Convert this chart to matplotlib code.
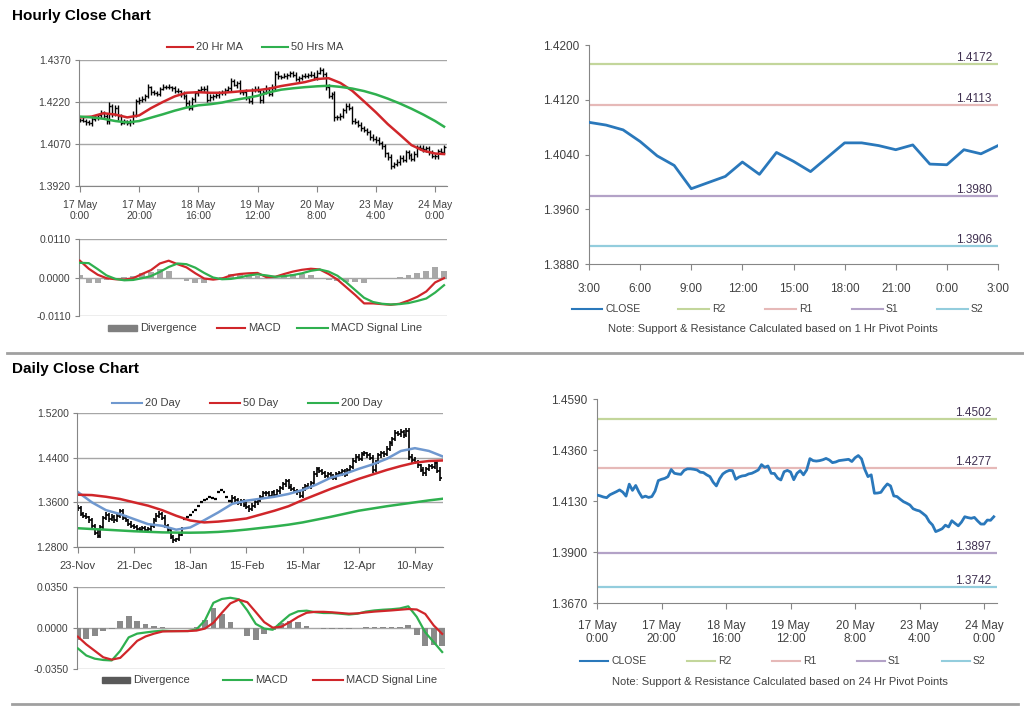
import numpy as np
import matplotlib
matplotlib.use("Agg")
import matplotlib.pyplot as plt
from matplotlib.lines import Line2D
from matplotlib.patches import Rectangle
import matplotlib.transforms as mtransforms

plt.rcParams['font.family'] = ['Liberation Sans', 'DejaVu Sans']

# ---------------- hourly data (17 May 0:00 -> 24 May) ----------------
hourly_close = [
    1.4157, 1.4153, 1.4148, 1.4145, 1.4158, 1.4165, 1.4172, 1.4180, 1.4170, 1.4152,
    1.4206, 1.4178, 1.4200, 1.4170, 1.4146, 1.4152, 1.4146, 1.4150, 1.4175, 1.4222,
    1.4228, 1.4232, 1.4240, 1.4272, 1.4255, 1.4252, 1.4250, 1.4268, 1.4275, 1.4275,
    1.4273, 1.4270, 1.4260, 1.4258, 1.4248, 1.4240, 1.4215, 1.4198, 1.4230, 1.4252,
    1.4262, 1.4268, 1.4267, 1.4228, 1.4238, 1.4243, 1.4245, 1.4252, 1.4255, 1.4262,
    1.4270, 1.4294, 1.4282, 1.4288, 1.4255, 1.4254, 1.4233, 1.4225, 1.4262, 1.4268,
    1.4261, 1.4226, 1.4255, 1.4267, 1.4248, 1.4270, 1.4321, 1.4312, 1.4310, 1.4312,
    1.4316, 1.4322, 1.4315, 1.4303, 1.4306, 1.4312, 1.4314, 1.4316, 1.4318, 1.4308,
    1.4325, 1.4335, 1.4320, 1.4273, 1.4240, 1.4248, 1.4165, 1.4166, 1.4169, 1.4190,
    1.4207, 1.4198, 1.4153, 1.4150, 1.4138, 1.4127, 1.4120, 1.4112, 1.4095, 1.4089,
    1.4085, 1.4074, 1.4062, 1.4037, 1.4022, 1.3992, 1.3998, 1.4005, 1.4021, 1.4013,
    1.4041, 1.4029, 1.4018, 1.4035, 1.4059, 1.4055, 1.4052, 1.4056, 1.4040, 1.4026,
    1.4026, 1.4044, 1.4043, 1.4059]
hourly_up_pips = [
    6, 8, 5, 9, 7, 10, 6, 12, 8, 9, 14, 7, 10, 8, 6, 9, 5, 8, 12, 10,
    9, 11, 7, 13, 6, 8, 9, 7, 10, 6, 8, 5, 7, 9, 6, 10, 8, 12, 9, 7,
    6, 10, 8, 12, 9, 7, 10, 6, 8, 9, 7, 11, 8, 6, 10, 9, 12, 8, 7, 10,
    9, 6, 8, 12, 7, 14, 8, 9, 6, 10, 8, 7, 9, 11, 6, 8, 10, 7, 12, 9,
    8, 11, 7, 6, 12, 9, 10, 8, 13, 7, 9, 8, 6, 10, 7, 9, 8, 6, 7, 9,
    8, 10, 7, 9, 6, 12, 8, 10, 9, 11, 7, 9, 8, 10, 6, 9, 12, 8, 7, 10,
    9, 8, 11, 7]
hourly_dn_pips = [
    8, 6, 10, 7, 9, 6, 11, 8, 7, 12, 9, 10, 7, 13, 8, 6, 9, 12, 8, 7,
    10, 8, 9, 6, 11, 7, 8, 10, 6, 9, 7, 12, 8, 6, 10, 9, 14, 7, 8, 10,
    9, 7, 11, 8, 6, 12, 8, 9, 7, 10, 8, 9, 6, 12, 8, 10, 7, 9, 13, 8,
    7, 10, 9, 6, 8, 7, 9, 11, 8, 6, 10, 8, 7, 9, 12, 8, 6, 10, 7, 9,
    8, 6, 10, 9, 7, 11, 14, 8, 9, 7, 10, 8, 12, 9, 8, 10, 7, 11, 9, 8,
    10, 7, 9, 12, 8, 13, 9, 7, 10, 8, 9, 11, 8, 7, 10, 8, 9, 12, 8, 7,
    9, 10, 8, 7]
hourly_tick_pos = [0, 20, 40, 60, 80, 100, 120]
hourly_tick_labels = ['17 May\n0:00', '17 May\n20:00', '18 May\n16:00', '19 May\n12:00',
                      '20 May\n8:00', '23 May\n4:00', '24 May\n0:00']

ma_hour_x = [0, 4, 8, 12, 16, 20, 24, 28, 32, 36, 40, 44, 48, 52, 56, 60,
             64, 68, 72, 76, 80, 84, 88, 92, 96, 100, 104, 108, 112, 116, 120, 123]
ma20_hour = [1.4165, 1.4168, 1.4180, 1.4175, 1.4165, 1.4172, 1.4198, 1.4220, 1.4240, 1.4253,
             1.4255, 1.4253, 1.4253, 1.4256, 1.4260, 1.4262, 1.4268, 1.4277, 1.4284, 1.4291,
             1.4302, 1.4305, 1.4288, 1.4260, 1.4222, 1.4183, 1.4141, 1.4104, 1.4066, 1.4046,
             1.4036, 1.4034]
ma50_hour = [1.4168, 1.4165, 1.4160, 1.4152, 1.4147, 1.4152, 1.4164, 1.4176, 1.4189, 1.4200,
             1.4208, 1.4212, 1.4218, 1.4227, 1.4234, 1.4242, 1.4255, 1.4264, 1.4269, 1.4273,
             1.4276, 1.4278, 1.4274, 1.4268, 1.4259, 1.4247, 1.4232, 1.4215, 1.4196, 1.4175,
             1.4152, 1.4132]

macd_hour_x = list(range(0, 124, 3))
macd_hour = [0.0048, 0.0025, 0.0008, -0.0002, -0.0005, -0.0006, -0.0002, 0.0010, 0.0021, 0.0040,
             0.0048, 0.0038, 0.0029, 0.0012, -0.0003, -0.0006, -0.0003, 0.0006, 0.0010, 0.0012,
             0.0013, 0.0001, 0.0002, 0.0010, 0.0017, 0.0022, 0.0025, 0.0023, 0.0010, -0.0006,
             -0.0028, -0.0050, -0.0074, -0.0074, -0.0076, -0.0078, -0.0075, -0.0066, -0.0055, -0.0040,
             -0.0014, -0.0002]
signal_hour = [0.0042, 0.0041, 0.0024, 0.0006, -0.0004, -0.0008, -0.0007, -0.0002, 0.0004, 0.0016,
               0.0030, 0.0040, 0.0038, 0.0028, 0.0013, 0.0000, -0.0005, -0.0004, 0.0000, 0.0006,
               0.0009, 0.0006, 0.0002, 0.0004, 0.0007, 0.0012, 0.0019, 0.0023, 0.0017, 0.0005,
               -0.0014, -0.0036, -0.0058, -0.0070, -0.0075, -0.0077, -0.0076, -0.0073, -0.0067, -0.0060,
               -0.0043, -0.0022]

# hourly pivot chart (last 24 hours)
pivot_hour_labels = ['3:00', '6:00', '9:00', '12:00', '15:00', '18:00', '21:00', '0:00', '3:00']
close_1h = [1.4087, 1.4083, 1.4076, 1.4059, 1.4038, 1.4024, 1.3990, 1.3999, 1.4008, 1.4029,
            1.4011, 1.4043, 1.4030, 1.4015, 1.4036, 1.4057, 1.4057, 1.4053, 1.4047, 1.4054,
            1.4026, 1.4025, 1.4047, 1.4041, 1.4053]
level_names = ['R2', 'R1', 'S1', 'S2']
levels_1h = [1.4172, 1.4113, 1.3980, 1.3906]
levels_24h = [1.4502, 1.4277, 1.3897, 1.3742]

# ---------------- daily data (23-Nov -> 23-May) ----------------
daily_close = [
    1.350, 1.340, 1.336, 1.333, 1.328, 1.318, 1.305, 1.300, 1.315, 1.332,
    1.338, 1.330, 1.334, 1.328, 1.336, 1.344, 1.332, 1.328, 1.322, 1.318,
    1.316, 1.312, 1.310, 1.314, 1.310, 1.312, 1.318, 1.328, 1.336, 1.340,
    1.332, 1.318, 1.310, 1.298, 1.292, 1.294, 1.302, 1.312, 1.330, 1.334,
    1.338, 1.342, 1.346, 1.354, 1.360, 1.364, 1.366, 1.369, 1.368, 1.366,
    1.378, 1.382, 1.378, 1.370, 1.362, 1.368, 1.364, 1.358, 1.362, 1.356,
    1.352, 1.348, 1.354, 1.360, 1.364, 1.370, 1.376, 1.376, 1.372, 1.378,
    1.374, 1.380, 1.386, 1.392, 1.398, 1.388, 1.384, 1.380, 1.378, 1.372,
    1.384, 1.390, 1.388, 1.394, 1.410, 1.420, 1.416, 1.412, 1.408, 1.410,
    1.406, 1.404, 1.410, 1.412, 1.416, 1.410, 1.418, 1.424, 1.434, 1.442,
    1.438, 1.446, 1.448, 1.444, 1.440, 1.418, 1.432, 1.444, 1.448, 1.446,
    1.456, 1.466, 1.474, 1.484, 1.482, 1.486, 1.480, 1.488, 1.442, 1.436,
    1.432, 1.426, 1.418, 1.412, 1.420, 1.425, 1.424, 1.431, 1.4165, 1.403]
N = None
daily_up_pips = [
    60, 40, 35, 45, 30, 40, 35, 50, 45, 40, 45, 35, 50, 40, 45, 40, 35, 45, 30, 40,
    35, 30, 40, 35, 45, 30, 40, 35, 50, 40, 35, 45, 30, 40, 35, 30, 45, 40, N, N,
    N, N, N, N, N, N, N, N, N, N, N, N, N, N, N, 55, 40, 45, 35, 40,
    45, 35, 40, 50, 35, 40, 45, 35, 40, 30, 45, 40, 35, 50, 40, 35, 45, 40, 30, 45,
    40, 35, 45, 50, 60, 40, 35, 45, 40, 35, 40, 45, 35, 40, 30, 45, 40, 35, 50, 40,
    45, 35, 40, 30, 45, 40, 35, 45, 40, 35, 45, 40, 35, 50, 40, 45, 35, 60, 50, 40,
    45, 40, 35, 50, 40, 35, 45, 40, 50, 60]
daily_dn_pips = [
    50, 45, 40, 35, 45, 50, 40, 45, 35, 40, 40, 45, 35, 50, 40, 35, 45, 40, 35, 45,
    40, 45, 35, 40, 30, 45, 35, 40, 30, 45, 40, 35, 50, 45, 40, 35, 40, 30, N, N,
    N, N, N, N, N, N, N, N, N, N, N, N, N, N, N, 40, 45, 35, 40, 50,
    40, 45, 35, 40, 45, 35, 40, 45, 35, 40, 35, 40, 45, 35, 40, 45, 35, 40, 50, 40,
    45, 40, 35, 40, 35, 45, 40, 35, 45, 40, 35, 45, 40, 35, 45, 40, 35, 45, 40, 35,
    40, 45, 35, 40, 45, 60, 40, 35, 45, 40, 35, 40, 45, 35, 40, 45, 40, 35, 60, 50,
    40, 45, 35, 50, 40, 45, 35, 40, 45, 50]
daily_tick_pos = [0, 20, 40, 60, 80, 100, 120]
daily_tick_labels = ['23-Nov', '21-Dec', '18-Jan', '15-Feb', '15-Mar', '12-Apr', '10-May']

ma_day_x = list(range(0, 131, 5))
ma20_day = [1.3784, 1.3600, 1.3460, 1.3390, 1.3300, 1.3210, 1.3180, 1.3110, 1.3150, 1.3280,
            1.3420, 1.3574, 1.3630, 1.3664, 1.3700, 1.3750, 1.3820, 1.3920, 1.4040, 1.4110,
            1.4200, 1.4280, 1.4380, 1.4520, 1.4570, 1.4520, 1.4420]
ma50_day = [1.3736, 1.3730, 1.3700, 1.3660, 1.3600, 1.3540, 1.3460, 1.3360, 1.3275, 1.3240,
            1.3255, 1.3280, 1.3310, 1.3380, 1.3450, 1.3530, 1.3640, 1.3740, 1.3840, 1.3930,
            1.4020, 1.4100, 1.4180, 1.4250, 1.4310, 1.4340, 1.4350]
ma200_day = [1.3136, 1.3122, 1.3110, 1.3096, 1.3082, 1.3072, 1.3062, 1.3058, 1.3056, 1.3060,
             1.3070, 1.3088, 1.3112, 1.3140, 1.3168, 1.3200, 1.3240, 1.3290, 1.3340, 1.3395,
             1.3450, 1.3490, 1.3530, 1.3565, 1.3600, 1.3635, 1.3665]

macd_day_x = list(range(0, 130, 3))
macd_day = [-0.0174, -0.0235, -0.0262, -0.0273, -0.0277, -0.0195, -0.0080, -0.0048, -0.0038, -0.0029,
            -0.0023, -0.0026, -0.0026, -0.0026, -0.0012, 0.0065, 0.0215, 0.0248, 0.0258, 0.0245,
            0.0150, 0.0035, -0.0005, -0.0015, 0.0050, 0.0112, 0.0143, 0.0148, 0.0135, 0.0128,
            0.0128, 0.0122, 0.0115, 0.0122, 0.0140, 0.0150, 0.0156, 0.0160, 0.0167, 0.0185,
            0.0095, -0.0037, -0.0120, -0.0205]
signal_day = [-0.0074, -0.0140, -0.0195, -0.0250, -0.0270, -0.0255, -0.0185, -0.0110, -0.0072, -0.0048,
              -0.0030, -0.0028, -0.0027, -0.0026, -0.0022, -0.0005, 0.0045, 0.0130, 0.0210, 0.0242,
              0.0220, 0.0136, 0.0050, 0.0003, 0.0010, 0.0050, 0.0095, 0.0130, 0.0138, 0.0138,
              0.0134, 0.0128, 0.0122, 0.0125, 0.0133, 0.0140, 0.0145, 0.0150, 0.0156, 0.0162,
              0.0158, 0.0120, 0.0022, -0.0050]

# ---------------- figure ----------------
W, H = 1024, 706
fig = plt.figure(figsize=(W / 100, H / 100), dpi=100)
TXT = '#404040'
GRID = '#a6a6a6'
SPINE = '#868686'
RED = '#d0262a'
GREEN = '#2fb04f'
BLUE = '#6f98cf'
PIV_COLORS = ['#c3d69b', '#e6b9b8', '#b3a2c7', '#93cddd']
CLOSE_BLUE = '#2a78bb'


def box(l, t, r, b):
    return [l / W, 1 - b / H, (r - l) / W, (b - t) / H]


def leg_line(x0, x1, y, color, label, size=8):
    fig.add_artist(Line2D([x0 / W, x1 / W], [1 - y / H] * 2, color=color, lw=1.5))
    fig.text((x1 + 3) / W, 1 - y / H, label, va='center', ha='left', fontsize=size, color=TXT)


def leg_patch(x0, x1, y, color, label, size=8):
    fig.add_artist(Rectangle((x0 / W, 1 - (y + 3) / H), (x1 - x0) / W, 6 / H, color=color))
    fig.text((x1 + 3) / W, 1 - y / H, label, va='center', ha='left', fontsize=size, color=TXT)


def ohlc(ax, close, up, dn, lw=1.0):
    close = np.asarray(close, dtype=float)
    opn = np.r_[close[0], close[:-1]]
    xs, los, his, dots = [], [], [], []
    for i, c in enumerate(close):
        if up[i] is None:
            dots.append(i)
            continue
        xs.append(i)
        his.append(max(opn[i], c) + up[i] * 1e-4)
        los.append(min(opn[i], c) - dn[i] * 1e-4)
    xs = np.array(xs)
    ax.vlines(xs, los, his, color='black', lw=lw)
    ax.hlines(opn[xs], xs - 0.5, xs, color='black', lw=lw)
    ax.hlines(close[xs], xs, xs + 0.5, color='black', lw=lw)
    dots = np.array(dots)
    if len(dots):
        ax.hlines(close[dots], dots - 0.5, dots + 0.5, color='black', lw=1.6)


def style_left(ax, ticks, fmt='{:.4f}'):
    ax.set_ylim(ticks[0], ticks[-1])
    ax.set_yticks(ticks)
    ax.set_yticklabels([fmt.format(t) for t in ticks])
    ax.grid(axis='y', color=GRID, lw=1)
    ax.set_axisbelow(True)
    for s in ['top', 'right']:
        ax.spines[s].set_visible(False)
    ax.spines['left'].set_color(SPINE)
    ax.spines['bottom'].set_color(SPINE)
    ax.tick_params(axis='y', length=3, color=SPINE, labelsize=7.5, labelcolor=TXT, pad=3)
    ax.tick_params(axis='x', length=4, color=SPINE, labelsize=7.5, labelcolor=TXT)


def style_macd(ax, lim):
    ax.set_ylim(-lim, lim)
    ax.set_yticks([-lim, 0, lim])
    ax.set_yticklabels(['{:.4f}'.format(v) for v in [-lim, 0, lim]])
    ax.grid(axis='y', color=GRID, lw=1)
    ax.set_axisbelow(True)
    for s in ['top', 'right', 'bottom']:
        ax.spines[s].set_visible(False)
    ax.spines['left'].set_color(SPINE)
    ax.set_xticks([])
    ax.tick_params(axis='y', length=3, color=SPINE, labelsize=7.5, labelcolor=TXT, pad=3)


def pivot_axes(ax, levels, fs):
    for val, col in zip(levels, PIV_COLORS):
        ax.axhline(val, color=col, lw=1.6, zorder=1)
        tr = mtransforms.blended_transform_factory(ax.transAxes, ax.transData)
        ax.text(0.985, val, '{:.4f}'.format(val), transform=tr, ha='right', va='bottom',
                fontsize=fs, color='#403151')
    for s in ['top', 'right']:
        ax.spines[s].set_visible(False)
    ax.spines['left'].set_color(SPINE)
    ax.spines['bottom'].set_color(SPINE)


# titles and separators
fig.text(12 / W, 1 - 16 / H, 'Hourly Close Chart', fontsize=11, fontweight='bold', va='center', color='black')
fig.text(12 / W, 1 - 369 / H, 'Daily Close Chart', fontsize=11, fontweight='bold', va='center', color='black')
fig.add_artist(Line2D([7 / W, 1], [1 - 353 / H] * 2, color='#a0a0a0', lw=2))
fig.add_artist(Line2D([12 / W, 1018 / W], [1 - 704 / H] * 2, color='#a0a0a0', lw=2))

# ---- hourly price ----
ax1 = fig.add_axes(box(79, 60, 447, 186))
ohlc(ax1, hourly_close, hourly_up_pips, hourly_dn_pips)
ax1.plot(ma_hour_x, ma20_hour, color=RED, lw=1.8)
ax1.plot(ma_hour_x, ma50_hour, color=GREEN, lw=1.8)
ax1.set_xlim(-0.3, 124)
style_left(ax1, [1.3920, 1.4070, 1.4220, 1.4370])
ax1.set_xticks(hourly_tick_pos)
ax1.set_xticklabels(hourly_tick_labels, linespacing=1.15)
ax1.tick_params(axis='x', pad=6)
leg_line(167, 193, 47, RED, '20 Hr MA')
leg_line(262, 288, 47, GREEN, '50 Hrs MA')

# ---- hourly MACD ----
ax2 = fig.add_axes(box(79, 239, 447, 316))
div_h = np.array(macd_hour) - np.array(signal_hour)
ax2.bar(macd_hour_x, div_h, width=2.0, color='#a8a8a8', zorder=2)
ax2.plot(macd_hour_x, macd_hour, color=RED, lw=1.6, zorder=3)
ax2.plot(macd_hour_x, signal_hour, color=GREEN, lw=1.6, zorder=3)
ax2.set_xlim(-0.3, 124)
style_macd(ax2, 0.011)
leg_patch(108, 137, 328, '#7f7f7f', 'Divergence')
leg_line(217, 245, 328, RED, 'MACD')
leg_line(297, 328, 328, GREEN, 'MACD Signal Line')

# ---- hourly pivot ----
ax3 = fig.add_axes(box(589, 45, 998, 264))
pivot_axes(ax3, levels_1h, 8.5)
ax3.plot(range(len(close_1h)), close_1h, color=CLOSE_BLUE, lw=2.0, zorder=3)
ax3.set_xlim(0, 24)
ax3.set_ylim(1.3880, 1.4200)
ax3.set_yticks([1.3880, 1.3960, 1.4040, 1.4120, 1.4200])
ax3.set_yticklabels(['1.3880', '1.3960', '1.4040', '1.4120', '1.4200'])
ax3.set_xticks(range(0, 25, 3))
ax3.set_xticklabels(pivot_hour_labels)
ax3.tick_params(axis='y', length=3, color=SPINE, labelsize=8.5, labelcolor=TXT, pad=4)
ax3.tick_params(axis='x', length=4, color=SPINE, labelsize=8.5, labelcolor=TXT, pad=10)
leg_line(572, 602, 309, CLOSE_BLUE, 'CLOSE', 7.5)
for (x0, name, col) in zip([678, 765, 852, 937], level_names, PIV_COLORS):
    leg_line(x0, x0 + 31, 309, col, name, 7.5)
fig.text(773 / W, 1 - 329 / H, 'Note: Support & Resistance Calculated based on 1 Hr Pivot Points',
         ha='center', va='center', fontsize=8, color=TXT)

# ---- daily price ----
ax4 = fig.add_axes(box(77, 413, 443, 547))
ohlc(ax4, daily_close, daily_up_pips, daily_dn_pips, lw=1.2)
ax4.plot(ma_day_x, ma20_day, color=BLUE, lw=1.8)
ax4.plot(ma_day_x, ma50_day, color=RED, lw=1.8)
ax4.plot(ma_day_x, ma200_day, color=GREEN, lw=1.8)
ax4.set_xlim(-0.3, 130)
style_left(ax4, [1.2800, 1.3600, 1.4400, 1.5200])
ax4.set_xticks(daily_tick_pos)
ax4.set_xticklabels(daily_tick_labels)
ax4.tick_params(axis='x', pad=6, labelsize=8)
leg_line(112, 142, 403, BLUE, '20 Day')
leg_line(210, 240, 403, RED, '50 Day')
leg_line(308, 338, 403, GREEN, '200 Day')

# ---- daily MACD ----
ax5 = fig.add_axes(box(77, 587, 445, 669))
div_d = np.array(macd_day) - np.array(signal_day)
ax5.bar(macd_day_x, div_d, width=2.0, color='#8a8a8a', zorder=2)
ax5.plot(macd_day_x, macd_day, color=GREEN, lw=1.6, zorder=3)
ax5.plot(macd_day_x, signal_day, color=RED, lw=1.6, zorder=3)
ax5.set_xlim(-0.3, 130)
style_macd(ax5, 0.035)
leg_patch(102, 130, 680, '#595959', 'Divergence')
leg_line(223, 252, 680, GREEN, 'MACD')
leg_line(313, 343, 680, RED, 'MACD Signal Line')

# ---- daily pivot ----
ax6 = fig.add_axes(box(597, 399, 997, 603))
pivot_axes(ax6, levels_24h, 8.5)
ax6.plot(range(len(hourly_close)), hourly_close, color=CLOSE_BLUE, lw=2.0, zorder=3)
ax6.set_xlim(0, 124)
ax6.set_ylim(1.3670, 1.4590)
ax6.set_yticks([1.3670, 1.3900, 1.4130, 1.4360, 1.4590])
ax6.set_yticklabels(['1.3670', '1.3900', '1.4130', '1.4360', '1.4590'])
ax6.set_xticks(hourly_tick_pos)
ax6.set_xticklabels(hourly_tick_labels, linespacing=1.15)
ax6.tick_params(axis='y', length=3, color=SPINE, labelsize=8.5, labelcolor=TXT, pad=4)
ax6.tick_params(axis='x', length=4, color=SPINE, labelsize=8.5, labelcolor=TXT, pad=8)
leg_line(580, 608, 661, CLOSE_BLUE, 'CLOSE', 7.5)
for (x0, name, col) in zip([687, 772, 857, 942], level_names, PIV_COLORS):
    leg_line(x0, x0 + 28, 661, col, name, 7.5)
fig.text(780 / W, 1 - 682 / H, 'Note: Support & Resistance Calculated based on 24 Hr Pivot Points',
         ha='center', va='center', fontsize=8, color=TXT)

fig.savefig('out.png', dpi=100)
